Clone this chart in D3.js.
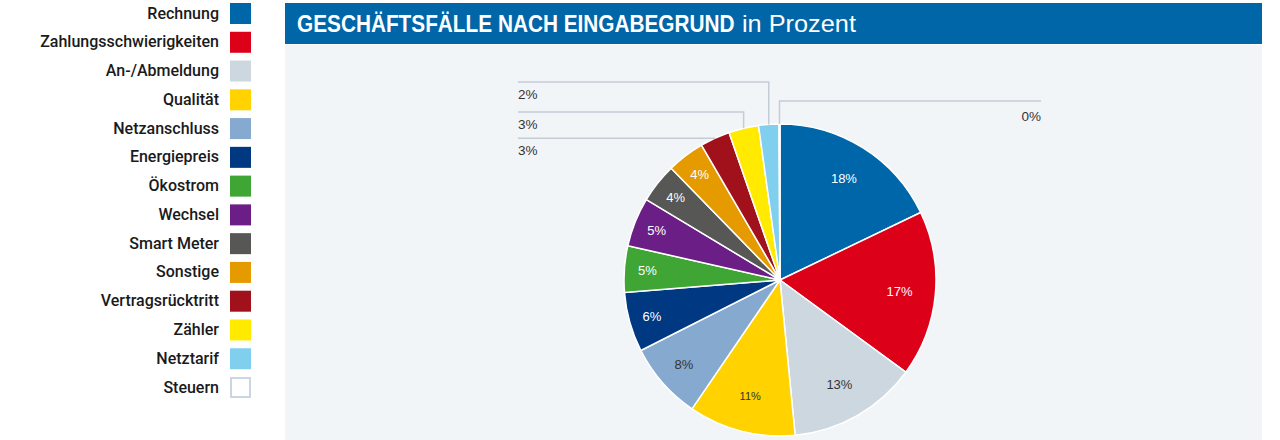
<!DOCTYPE html>
<html>
<head>
<meta charset="utf-8">
<script src="https://cdn.jsdelivr.net/npm/d3@7"></script>
<style>
  html, body { margin: 0; padding: 0; background: #ffffff; }
  svg { display: block; }
</style>
</head>
<body>
<svg id="chart" width="1280" height="440"></svg>
<script>
// ---- data ----
const categories = ["Rechnung", "Zahlungsschwierigkeiten", "An-/Abmeldung", "Qualität", "Netzanschluss",
  "Energiepreis", "Ökostrom", "Wechsel", "Smart Meter", "Sonstige", "Vertragsrücktritt", "Zähler",
  "Netztarif", "Steuern"];
const values = [17.9, 17.2, 13.4, 11.1, 8.0, 6.2, 4.8, 5.1, 4.1, 3.9, 3.1, 3.1, 2.1, 0.1];
const titleBold = "GESCHÄFTSFÄLLE NACH EINGABEGRUND";
const titleRegular = "in Prozent";

// ---- styles ----
const palette = ["#0066aa", "#dc0019", "#cdd7e0", "#ffd200", "#85a9cf", "#003882", "#3fa535",
  "#6b1f86", "#575756", "#e59a00", "#a0111c", "#ffea00", "#80cfee", "#ffffff"];
const labelInk = ["#ffffff", "#ffffff", "#333333", "#333333", "#333333", "#ffffff", "#ffffff",
  "#ffffff", "#ffffff", "#ffffff", null, null, null, null];
const callouts = [
  { i: 12, level: 82, side: "left" },
  { i: 11, level: 112, side: "left" },
  { i: 10, level: null, side: "left" },
  { i: 13, level: 101, side: "right" }
];

const svg = d3.select("#chart");
const FONT = "'Liberation Sans', Arial, sans-serif";
const LEGFONT = "Roboto, 'Liberation Sans', sans-serif";

// panel + title bar
svg.append("rect").attr("x", 285).attr("y", 45).attr("width", 977).attr("height", 395).attr("fill", "#f2f5f8");
svg.append("rect").attr("x", 285).attr("y", 3).attr("width", 977).attr("height", 41).attr("fill", "#0066a8");

function fitText(x, y, str, weight, size, targetW) {
  const g = svg.append("g").attr("transform", `translate(${x},${y})`);
  const t = g.append("text").attr("fill", "#ffffff")
    .style("font-family", FONT).style("font-size", size + "px").style("font-weight", weight).text(str);
  const w = t.node().getComputedTextLength();
  t.attr("transform", `scale(${targetW / w},1)`);
}
fitText(297, 32, titleBold, "bold", 23, 438);
fitText(742, 32, titleRegular, "normal", 23, 114);

// legend
const legendY = d3.scalePoint().domain(categories).range([13, 387]);
const lg = svg.append("g");
categories.forEach((c, i) => {
  const y = legendY(c);
  lg.append("text").attr("x", 219).attr("y", y + 5.5).attr("text-anchor", "end")
    .attr("fill", "#1a1a1a").style("font-family", LEGFONT).style("font-size", "16px")
    .style("font-weight", "500").text(c);
  const last = i === categories.length - 1;
  lg.append("rect").attr("x", last ? 231 : 230).attr("y", y - 10 + (last ? 1 : 0))
    .attr("width", last ? 19 : 21).attr("height", last ? 19 : 21)
    .attr("fill", palette[i])
    .attr("stroke", last ? "#ccd6e0" : "none").attr("stroke-width", last ? 2 : 0);
});

// pie
const cx = 780, cy = 280, R = 156;
const pie = d3.pie().sort(null).value(d => d)(values);
const arc = d3.arc().innerRadius(0).outerRadius(R);
const labelR = v => v >= 10 ? 120 : v >= 7 ? 128 : 133;
const g = svg.append("g").attr("transform", `translate(${cx},${cy})`);
g.selectAll("path").data(pie).join("path")
  .attr("d", arc)
  .attr("fill", (d, i) => palette[i])
  .attr("stroke", "#ffffff").attr("stroke-width", 1.5);

g.selectAll("text.in").data(pie.filter((d, i) => labelInk[i])).join("text")
  .attr("class", "in")
  .attr("transform", d => {
    const r = labelR(d.value);
    return `translate(${d3.arc().innerRadius(r).outerRadius(r).centroid(d)})`;
  })
  .attr("text-anchor", "middle").attr("dy", "0.35em")
  .attr("fill", d => labelInk[d.index])
  .style("font-family", FONT)
  .style("font-size", d => Math.round(d.value) === 11 ? "11px" : "13px")
  .text(d => Math.round(d.value) + "%");

// callouts
const co = svg.append("g");
callouts.forEach(c => {
  const d = pie[c.i];
  const a = (d.startAngle + d.endAngle) / 2;
  const px = cx + R * Math.sin(a), py = cy - R * Math.cos(a);
  const ly = c.level === null ? py : c.level;
  const endX = c.side === "left" ? 518 : 1041;
  co.append("path")
    .attr("d", `M${px},${py}V${ly}H${endX}`)
    .attr("fill", "none").attr("stroke", "#c4ccd6").attr("stroke-width", 1.5);
  co.append("text")
    .attr("x", endX).attr("y", ly + (c.side === "left" ? 17 : 20))
    .attr("text-anchor", c.side === "left" ? "start" : "end")
    .attr("fill", "#333333").style("font-family", FONT).style("font-size", "13.5px")
    .text(Math.round(d.value) + "%");
});
</script>
</body>
</html>
